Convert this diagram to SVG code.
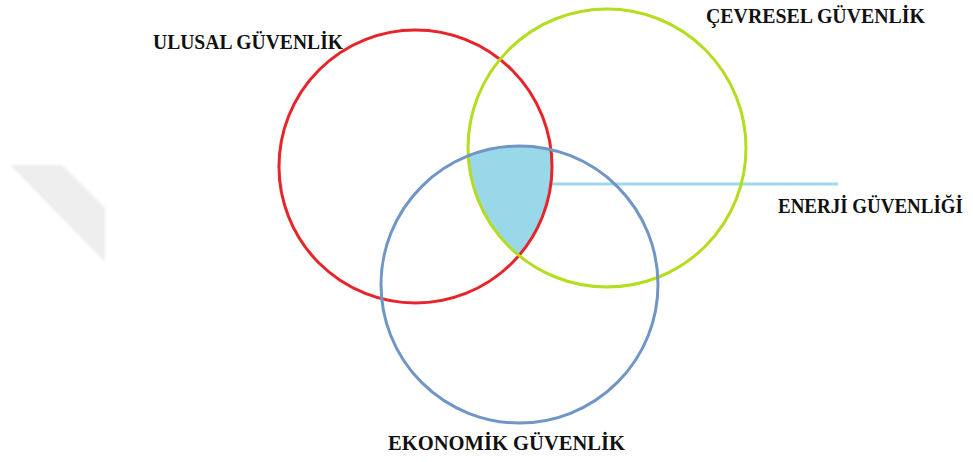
<svg xmlns="http://www.w3.org/2000/svg" width="973" height="462" viewBox="0 0 973 462">
  <style>
    .ring { fill: none; stroke-width: 3; }
    .lbl { font-family: "Liberation Serif", "Times New Roman", serif; font-weight: bold; font-size: 21.5px; fill: #111; }
  </style>
  <defs>
    <clipPath id="clipRed"><circle cx="415.5" cy="166.5" r="136.5"/></clipPath>
    <clipPath id="clipGreen"><circle cx="607" cy="148" r="139"/></clipPath>
    <filter id="soft" x="-10%" y="-10%" width="120%" height="120%"><feGaussianBlur stdDeviation="1.2"/></filter>
  </defs>

  <rect width="973" height="462" fill="#ffffff"/>

  <!-- faint diagonal band at left margin -->
  <polygon points="10,165 62,165 105,208 105,262" fill="#eeeeee" filter="url(#soft)"/>

  <!-- shared area of all three sets -->
  <g id="overlap">
    <g clip-path="url(#clipGreen)">
      <circle cx="519.5" cy="284.5" r="138.5" fill="#99d8e8" clip-path="url(#clipRed)"/>
    </g>
  </g>

  <g id="connectors">
    <line x1="552" y1="184" x2="838" y2="184" stroke="#9fd9ea" stroke-width="3"/>
  </g>

  <g id="ulusal">
    <circle class="ring" cx="415.5" cy="166.5" r="136.5" stroke="#e8242b"/>
    <text class="lbl" x="153" y="49" textLength="190" lengthAdjust="spacingAndGlyphs">ULUSAL GÜVENLİK</text>
  </g>

  <g id="cevresel">
    <circle class="ring" cx="607" cy="148" r="139" stroke="#b5dd1f"/>
    <text class="lbl" x="706" y="23" textLength="219" lengthAdjust="spacingAndGlyphs">ÇEVRESEL GÜVENLİK</text>
  </g>

  <g id="ekonomik">
    <circle class="ring" cx="519.5" cy="284.5" r="138.5" stroke="#7096c8"/>
    <text class="lbl" x="388" y="450" textLength="237" lengthAdjust="spacingAndGlyphs">EKONOMİK GÜVENLİK</text>
  </g>

  <g id="enerji">
    <text class="lbl" x="778" y="213" textLength="185" lengthAdjust="spacingAndGlyphs">ENERJİ GÜVENLİĞİ</text>
  </g>
</svg>
